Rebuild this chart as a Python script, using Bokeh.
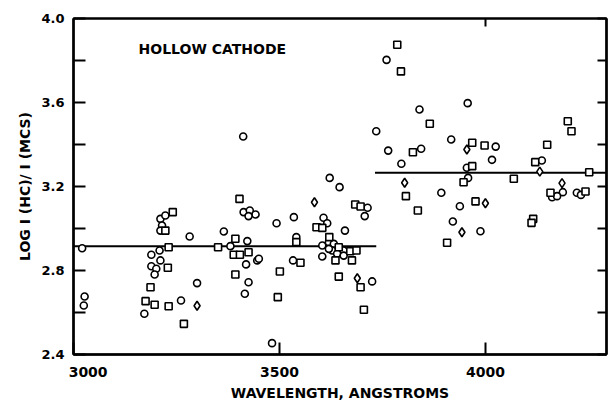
from bokeh.plotting import figure
from bokeh.models import Range1d, FixedTicker, LinearAxis, Label, ColumnDataSource
from bokeh.embed import file_html
from bokeh.resources import INLINE

# ---- data ----
circle_x = [3021, 3027, 3025, 3211, 3223, 3215, 3211, 3282, 3209, 3189, 3211, 3189, 3201, 3197,
            3300, 3261, 3172, 3412, 3365, 3381, 3422, 3413, 3428, 3442, 3425, 3419, 3425, 3416,
            3446, 3622, 3646, 3714, 3707, 3493, 3535, 3607, 3616, 3659, 3541, 3604, 3620, 3632,
            3628, 3656, 3620, 3640, 3656, 3604, 3450, 3533, 3725, 3482, 3760, 3957, 3840, 3735,
            3917, 3764, 3844, 4025, 4016, 3796, 4137, 3955, 3958, 3893, 4188, 4162, 4174, 4222,
            4232, 3938, 3921, 3988]
circle_y = [2.906, 2.676, 2.633, 3.046, 3.062, 3.014, 2.990, 2.962, 2.895, 2.875, 2.848, 2.820,
            2.808, 2.781, 2.740, 2.657, 2.594, 3.438, 2.986, 2.916, 2.940, 3.078, 3.086, 3.067,
            3.059, 2.829, 2.744, 2.689, 2.848, 3.241, 3.197, 3.099, 3.059, 3.025, 3.054, 3.051,
            3.025, 2.990, 2.959, 2.919, 2.935, 2.927, 2.895, 2.895, 2.903, 2.880, 2.871, 2.867,
            2.856, 2.848, 2.748, 2.454, 3.803, 3.597, 3.567, 3.463, 3.424, 3.371, 3.380, 3.390,
            3.327, 3.308, 3.324, 3.289, 3.241, 3.170, 3.173, 3.149, 3.154, 3.170, 3.160, 3.106,
            3.033, 2.987]

square_x = [3241, 3223, 3231, 3229, 3187, 3175, 3197, 3231, 3268, 3403, 3351, 3393, 3389, 3404,
            3425, 3393, 3684, 3697, 3590, 3604, 3541, 3621, 3644, 3672, 3687, 3636, 3676, 3551,
            3501, 3644, 3697, 3496, 3705, 3786, 3795, 3865, 4200, 4209, 3824, 3968, 3998, 4150,
            4121, 3968, 4252, 4069, 3947, 3807, 4158, 4243, 3836, 3976, 4116, 4112, 3907]
square_y = [3.078, 2.990, 2.911, 2.813, 2.720, 2.654, 2.637, 2.630, 2.546, 3.141, 2.911, 2.951,
            2.875, 2.875, 2.887, 2.781, 3.114, 3.105, 3.006, 3.003, 2.935, 2.959, 2.911, 2.892,
            2.895, 2.848, 2.848, 2.837, 2.795, 2.771, 2.720, 2.673, 2.613, 3.875, 3.748, 3.499,
            3.511, 3.463, 3.363, 3.408, 3.395, 3.399, 3.316, 3.297, 3.268, 3.237, 3.220, 3.154,
            3.170, 3.176, 3.086, 3.129, 3.046, 3.027, 2.932]

diamond_x = [3300, 3585, 3689, 3955, 4132, 3804, 4186, 4000, 3943]
diamond_y = [2.632, 3.125, 2.763, 3.376, 3.271, 3.218, 3.216, 3.120, 2.982]

# mean levels of the two wavelength regions
mean_x0 = [3000, 3732]
mean_x1 = [3735, 4294]
mean_y = [2.915, 3.265]

y_major = [2.4, 2.8, 3.2, 3.6, 4.0]
y_minor = [2.6, 3.0, 3.4, 3.8]
y_labels = ["2.4", "2.8", "3.2", "3.6", "4.0"]
x_major = [3000, 3500, 4000]
x_labels = ["3000", "3500", "4000"]

FONT = "DejaVu Sans"
NBSP = "\u00a0"

p = figure(width=608, height=403, output_backend="svg", toolbar_location=None,
           x_range=Range1d(3000, 4294), y_range=Range1d(2.4, 4.0),
           min_border_left=73, min_border_right=2, min_border_top=18, min_border_bottom=49,
           x_axis_location=None, y_axis_location=None)
p.grid.visible = False
p.background_fill_color = "white"
p.border_fill_color = "white"
p.outline_line_color = "black"
p.outline_line_width = 2

def style_axis(ax, ticker):
    ax.ticker = ticker
    ax.axis_line_color = "black"
    ax.axis_line_width = 2.5
    ax.major_tick_in = 12
    ax.major_tick_out = 0
    ax.minor_tick_in = 12
    ax.minor_tick_out = 0
    ax.major_tick_line_width = 2
    ax.minor_tick_line_width = 2
    ax.major_tick_line_color = "black"
    ax.minor_tick_line_color = "black"
    ax.major_label_text_font = FONT
    ax.major_label_text_font_style = "bold"
    ax.major_label_text_font_size = "14px"
    ax.major_label_text_color = "black"
    ax.axis_label_text_font = FONT
    ax.axis_label_text_font_style = "bold"
    ax.axis_label_text_font_size = "14px"
    ax.axis_label_text_color = "black"

left = LinearAxis(axis_label="LOG I (HC)/ I (MCS)")
style_axis(left, FixedTicker(ticks=y_major, minor_ticks=y_minor))
left.major_label_text_font_size = "13px"
left.major_label_standoff = 9
left.axis_label_standoff = 5
left.major_label_overrides = {t: s for t, s in zip(y_major, y_labels)}
p.add_layout(left, "left")

bottom = LinearAxis(axis_label="WAVELENGTH, ANGSTROMS")
style_axis(bottom, FixedTicker(ticks=x_major, minor_ticks=[]))
bottom.major_label_standoff = 9
bottom.axis_label_standoff = 2
# the first label sits to the right of the corner in the original
over = {t: s for t, s in zip(x_major, x_labels)}
over[x_major[0]] = NBSP * 6 + x_labels[0]
bottom.major_label_overrides = over
p.add_layout(bottom, "below")

right = LinearAxis()
style_axis(right, FixedTicker(ticks=y_major, minor_ticks=y_minor))
right.major_tick_in = 9
right.minor_tick_in = 9
right.major_label_overrides = {t: "" for t in y_major}
right.major_label_standoff = 0
p.add_layout(right, "right")

top = LinearAxis()
style_axis(top, FixedTicker(ticks=[x_major[2]], minor_ticks=[]))
top.axis_line_width = 2
top.major_tick_in = 8
top.major_label_overrides = {x_major[2]: ""}
top.major_label_standoff = 0
p.add_layout(top, "above")

p.add_layout(Label(x=3158, y=3.857, text="HOLLOW CATHODE", text_align="left",
                   text_baseline="middle", text_font=FONT, text_font_style="bold",
                   text_font_size="14px", text_color="black"))

p.segment(x0=mean_x0, y0=mean_y, x1=mean_x1, y1=mean_y, line_color="black", line_width=2)

for xs, ys, mk, sz in [(circle_x, circle_y, "circle", 7),
                       (square_x, square_y, "square", 7),
                       (diamond_x, diamond_y, "diamond", 9)]:
    src = ColumnDataSource(dict(x=xs, y=ys))
    p.scatter("x", "y", source=src, marker=mk, size=sz, fill_color="white",
              line_color="black", line_width=1.6)

open("out.html", "w").write(file_html(p, INLINE))
